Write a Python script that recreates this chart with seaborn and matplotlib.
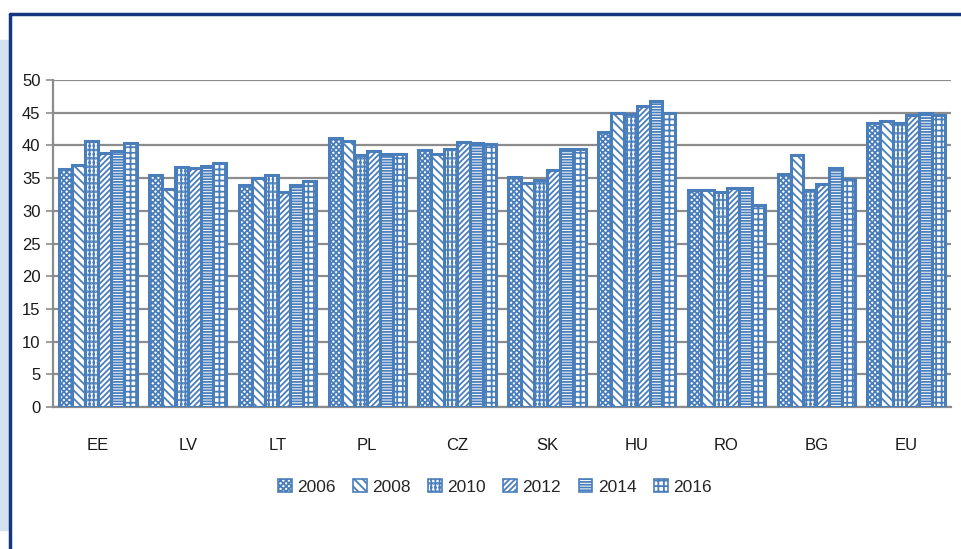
import numpy as np
import pandas as pd
import matplotlib
matplotlib.use("Agg")
import matplotlib.pyplot as plt
import seaborn as sns
from matplotlib.lines import Line2D
from matplotlib.patches import Rectangle, Patch

# Dados
countries = ["EE", "LV", "LT", "PL", "CZ", "SK", "HU", "RO", "BG", "EU"]
years = ["2006", "2008", "2010", "2012", "2014", "2016"]
v2006 = [36.4, 35.4, 33.9, 41.1, 39.3, 35.2, 42.1, 33.2, 35.6, 43.5]
v2008 = [37.0, 33.3, 35.0, 40.7, 38.7, 34.3, 44.9, 33.2, 38.6, 43.7]
v2010 = [40.7, 36.7, 35.4, 38.5, 39.4, 34.7, 44.8, 32.8, 33.2, 43.5]
v2012 = [38.9, 36.6, 32.8, 39.1, 40.5, 36.2, 46.0, 33.5, 34.1, 44.7]
v2014 = [39.1, 36.9, 33.9, 38.7, 40.4, 39.4, 46.8, 33.5, 36.6, 44.9]
v2016 = [40.3, 37.3, 34.5, 38.7, 40.2, 39.4, 44.9, 30.9, 34.8, 44.7]

series = [v2006, v2008, v2010, v2012, v2014, v2016]
df = pd.DataFrame({
    "country": np.tile(countries, len(years)),
    "year": np.repeat(years, len(countries)),
    "value": np.concatenate(series),
})

blue = "#4a7ebb"
hatches = ["xxxxxx", "\\\\\\\\", "||||....", "//////", "------", "+++"]

sns.set_style("white")
plt.rcParams["font.family"] = ["Liberation Sans Narrow", "Liberation Sans", "DejaVu Sans"]
plt.rcParams["hatch.color"] = blue
plt.rcParams["hatch.linewidth"] = 1.3

fig = plt.figure(figsize=(9.61, 5.49), dpi=100)
ax = fig.add_axes([53 / 961, 1 - 407 / 549, (951 - 53) / 961, (407 - 80) / 549])

sns.barplot(data=df, x="country", y="value", hue="year", order=countries,
            hue_order=years, color="white", width=0.86, ax=ax,
            errorbar=None, legend=False, zorder=3)

for cont, h in zip(ax.containers, hatches):
    for bar in cont:
        bar.set_facecolor("white")
        bar.set_edgecolor(blue)
        bar.set_linewidth(2.2)
        bar.set_hatch(h)

ax.set_ylim(0, 50)
ax.set_xlim(-0.5, len(countries) - 0.5)
ax.set_yticks(range(0, 51, 5))
ax.yaxis.grid(True, color="#8c8c8c", linewidth=1.6, zorder=0)
ax.set_axisbelow(True)
ax.set_xlabel("")
ax.set_ylabel("")

for s in ["top", "right"]:
    ax.spines[s].set_visible(False)
for s in ["left", "bottom"]:
    ax.spines[s].set_color("#8c8c8c")
    ax.spines[s].set_linewidth(1.6)

ax.set_xticks(np.arange(-0.5, len(countries), 1.0), minor=True)
ax.tick_params(axis="x", which="minor", length=5, color="#8c8c8c", width=1.2, direction="out")
ax.tick_params(axis="x", which="major", length=0, pad=22, labelsize=12, labelcolor="#1a1a1a")
ax.tick_params(axis="y", length=5, color="#8c8c8c", width=1.2, direction="out",
               labelsize=12, labelcolor="#1a1a1a", pad=4)
ax.tick_params(left=True, bottom=True)

handles = [Patch(facecolor="white", edgecolor=blue, hatch=h, linewidth=1.2) for h in hatches]
fig.legend(handles, years, loc="center", bbox_to_anchor=(0.515, 1 - 487 / 549),
           ncol=6, frameon=False, fontsize=12.5, handlelength=0.8, handleheight=0.8,
           handletextpad=0.3, columnspacing=1.0)

# moldura
fig.add_artist(Rectangle((0, 1 - 530 / 549), 10 / 961, 490 / 549,
                         transform=fig.transFigure, color="#d2e3ef", zorder=0))
fig.add_artist(Line2D([10 / 961, 1], [1 - 14 / 549, 1 - 14 / 549],
                      transform=fig.transFigure, color="#16377f", linewidth=2.5))
fig.add_artist(Line2D([10 / 961, 10 / 961], [0, 1 - 14 / 549],
                      transform=fig.transFigure, color="#16377f", linewidth=2.5))

fig.savefig("out.png", dpi=100)
